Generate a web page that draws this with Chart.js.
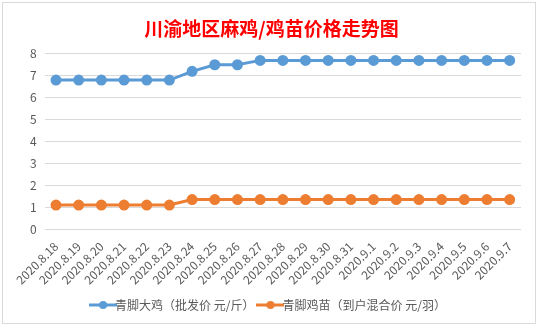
<!DOCTYPE html>
<html>
<head>
<meta charset="utf-8">
<script src="https://cdn.jsdelivr.net/npm/chart.js@4"></script>
<style>
    body { margin: 0; background: #fff; width: 538px; height: 327px; overflow: hidden; }
    #box { position: absolute; left: 2px; top: 2px; width: 532px; height: 320px; border: 1px solid #d9d9d9; background: #fff; }
</style>
</head>
<body>
<div id="box"><canvas id="priceChart" width="532" height="320"></canvas></div>
<script>
const dates = ["2020.8.18", "2020.8.19", "2020.8.20", "2020.8.21", "2020.8.22", "2020.8.23", "2020.8.24",
    "2020.8.25", "2020.8.26", "2020.8.27", "2020.8.28", "2020.8.29", "2020.8.30", "2020.8.31",
    "2020.9.1", "2020.9.2", "2020.9.3", "2020.9.4", "2020.9.5", "2020.9.6", "2020.9.7"];

const adultChicken = [6.8, 6.8, 6.8, 6.8, 6.8, 6.8, 7.2, 7.5, 7.5, 7.7, 7.7, 7.7, 7.7, 7.7,
    7.7, 7.7, 7.7, 7.7, 7.7, 7.7, 7.7];

const chicks = [1.1, 1.1, 1.1, 1.1, 1.1, 1.1, 1.35, 1.35, 1.35, 1.35, 1.35, 1.35, 1.35, 1.35,
    1.35, 1.35, 1.35, 1.35, 1.35, 1.35, 1.35];

const seriesNames = ["青脚大鸡（批发价 元/斤）", "青脚鸡苗（到户混合价 元/羽）"];
const colors = ["#5b9bd5", "#ed7d31"];

const fontFamily = "'Noto Sans CJK SC', 'Noto Sans', sans-serif";

// little line-with-dot marker for the legend
function legendMarker(color) {
    const c = document.createElement("canvas");
    c.width = 28;
    c.height = 10;
    const g = c.getContext("2d");
    g.strokeStyle = color;
    g.lineWidth = 3;
    g.beginPath();
    g.moveTo(0, 5);
    g.lineTo(28, 5);
    g.stroke();
    g.fillStyle = color;
    g.beginPath();
    g.arc(14, 5, 4, 0, Math.PI * 2);
    g.fill();
    return c;
}

new Chart(document.getElementById("priceChart"), {
    type: "line",
    data: {
        labels: dates,
        datasets: [
            {
                label: seriesNames[0],
                data: adultChicken,
                borderColor: colors[0],
                backgroundColor: colors[0],
                borderWidth: 3,
                pointRadius: 4,
                tension: 0
            },
            {
                label: seriesNames[1],
                data: chicks,
                borderColor: colors[1],
                backgroundColor: colors[1],
                borderWidth: 3,
                pointRadius: 4,
                tension: 0
            }
        ]
    },
    options: {
        responsive: false,
        animation: false,
        layout: { padding: { left: 19, right: 14, top: 6, bottom: 2 } },
        plugins: {
            title: {
                display: true,
                text: "川渝地区麻鸡/鸡苗价格走势图",
                color: "#ff0000",
                font: { family: fontFamily, size: 19, weight: "bold" },
                padding: { top: 8, bottom: 14 }
            },
            legend: {
                position: "bottom",
                labels: {
                    usePointStyle: true,
                    color: "#595959",
                    font: { family: fontFamily, size: 12 },
                    padding: 10,
                    generateLabels: chart => chart.data.datasets.map((ds, i) => ({
                        text: ds.label,
                        pointStyle: legendMarker(colors[i]),
                        fontColor: "#595959",
                        datasetIndex: i,
                        hidden: false
                    }))
                }
            },
            tooltip: { enabled: false }
        },
        scales: {
            x: {
                offset: true,
                grid: { display: false },
                border: { display: false },
                ticks: {
                    color: "#595959",
                    font: { family: fontFamily, size: 12 },
                    minRotation: 45,
                    maxRotation: 45,
                    autoSkip: false,
                    padding: 2
                }
            },
            y: {
                min: 0,
                max: 8,
                ticks: {
                    stepSize: 1,
                    color: "#595959",
                    font: { family: fontFamily, size: 12 },
                    padding: 8
                },
                grid: { color: "#d9d9d9", drawTicks: false },
                border: { display: false }
            }
        }
    }
});
</script>
</body>
</html>
